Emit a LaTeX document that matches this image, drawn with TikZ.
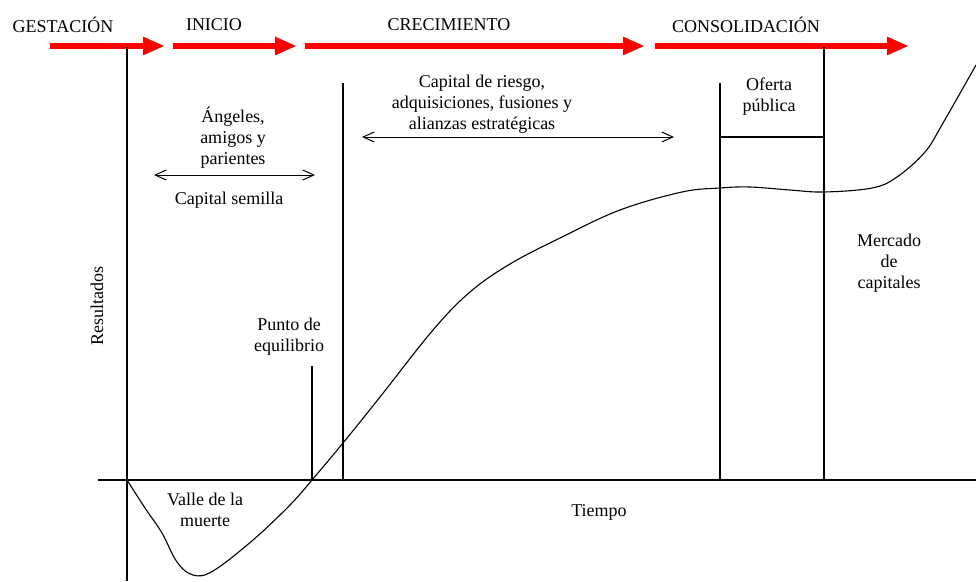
\documentclass[tikz,border=0pt]{standalone}
\usepackage{fontspec}
\setmainfont{Liberation Serif}
\usetikzlibrary{arrows.meta}

\begin{document}
\begin{tikzpicture}[x=1pt, y=-1pt, font=\fontsize{18}{21}\selectfont,
	etapa/.style={red, line width=6pt, -{Triangle[length=22pt, width=17pt]}},
	linea/.style={line width=1.1pt},
	rango/.style={line width=1pt, {Straight Barb[length=11pt, width=10pt]}-{Straight Barb[length=11pt, width=10pt]}},
	rotulo/.style={align=center, inner sep=0pt}]
				\useasboundingbox (0,0) rectangle (976,581);
				
				\coordinate (gestacion_ini) at (50,46);
				\coordinate (gestacion_fin) at (165,46);
				\coordinate (inicio_ini) at (173,46);
				\coordinate (inicio_fin) at (297,46);
				\coordinate (crecimiento_ini) at (305,46);
				\coordinate (crecimiento_fin) at (645,46);
				\coordinate (consolidacion_ini) at (655,46);
				\coordinate (consolidacion_fin) at (909,46);
				
				\coordinate (origen) at (127,480);
				\coordinate (eje_izq) at (98,480);
				\coordinate (eje_der) at (976,480);
				\coordinate (vertical_abajo) at (127,581);
				\coordinate (vertical_arriba) at (127,47);
				\coordinate (crec_arriba) at (343,83);
				\coordinate (crec_abajo) at (343,480);
				\coordinate (equilibrio_arriba) at (312,366);
				\coordinate (equilibrio) at (312,480);
				\coordinate (oferta_arriba) at (720,83);
				\coordinate (oferta_abajo) at (720,480);
				\coordinate (oferta_medio) at (720,137);
				\coordinate (mercado_arriba) at (824,47);
				\coordinate (mercado_medio) at (824,137);
				\coordinate (mercado_abajo) at (824,480);
				
				\coordinate (semilla_izq) at (154,175);
				\coordinate (semilla_der) at (315,175);
				\coordinate (riesgo_izq) at (362,137);
				\coordinate (riesgo_der) at (674,137);
				
				\node[rotulo] at (63,25) (gestacion) {GESTACIÓN};
				\node[rotulo] at (214,25) (inicio) {INICIO};
				\node[rotulo] at (449,25) (crecimiento) {CRECIMIENTO};
				\node[rotulo] at (746,25) (consolidacion) {CONSOLIDACIÓN};
				
				\node[rotulo] at (233,138) (angeles) {Ángeles,\\amigos y\\parientes};
				\node[rotulo] at (229,200) (semilla) {Capital semilla};
				\node[rotulo] at (482,104) (riesgo) {Capital de riesgo,\\adquisiciones, fusiones y\\alianzas estratégicas};
				\node[rotulo] at (769,97) (oferta) {Oferta\\pública};
				\node[rotulo] at (889,263) (mercado) {Mercado\\de\\capitales};
				\node[rotulo] at (289,337) (punto) {Punto de\\equilibrio};
				\node[rotulo] at (205,510) (valle) {Valle de la\\muerte};
				\node[rotulo] at (599,512) (tiempo) {Tiempo};
				\node[rotulo, rotate=90] at (97,306) (resultados) {Resultados};
				
				\draw[etapa] (gestacion_ini) -- (gestacion_fin);
				\draw[etapa] (inicio_ini) -- (inicio_fin);
				\draw[etapa] (crecimiento_ini) -- (crecimiento_fin);
				\draw[etapa] (consolidacion_ini) -- (consolidacion_fin);
				
				\draw[linea] (eje_izq) -- (eje_der);
				\draw[linea] (vertical_arriba) -- (vertical_abajo);
				\draw[linea] (crec_arriba) -- (crec_abajo);
				\draw[linea] (equilibrio_arriba) -- (equilibrio);
				\draw[linea] (oferta_arriba) -- (oferta_abajo);
				\draw[linea] (mercado_arriba) -- (mercado_abajo);
				\draw[linea] (oferta_medio) -- (mercado_medio);
				
				\draw[rango] (semilla_izq) -- (semilla_der);
				\draw[rango] (riesgo_izq) -- (riesgo_der);
				
				% curva de resultados
				\draw[linea] plot[smooth, tension=0.6] coordinates {(127,480) (145,508) (162,533) (177,562) (193,575) (213,571) (253,540) (290,505) (312,480) (343,443) (380,397) (433,330) (470,292) (510,264) (560,238) (620,210) (682,192) (720,188) (750,187) (790,190) (824,192) (872,188) (897,177) (925,152) (943,123) (976,65)};
			\end{tikzpicture}
\end{document}
